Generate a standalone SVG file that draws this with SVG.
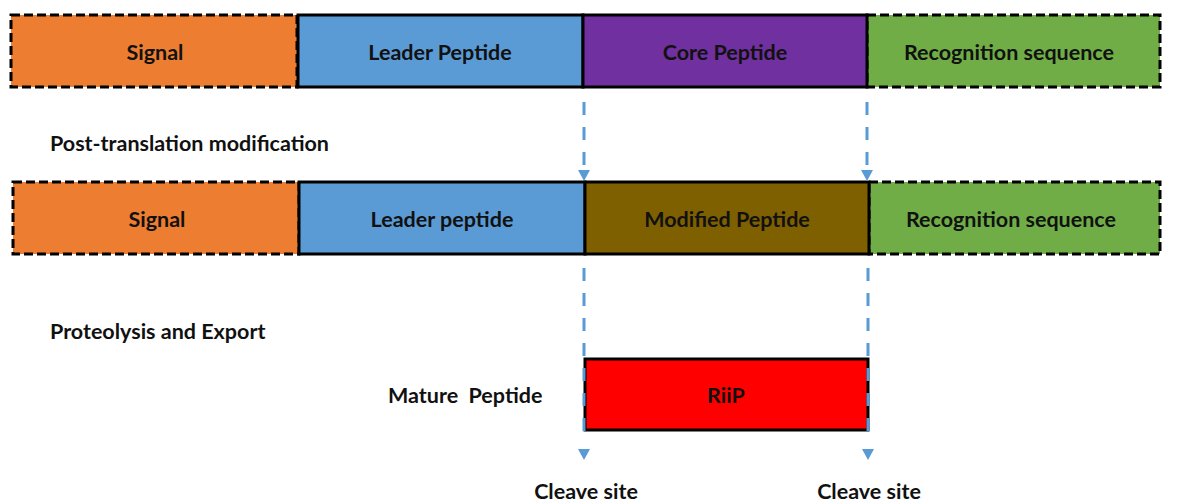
<svg xmlns="http://www.w3.org/2000/svg" width="1177" height="502" viewBox="0 0 1177 502">
<defs>
<style>
.box{stroke:#000;stroke-width:3}
.dash{stroke-dasharray:9 4}
.lbl{font-family:Lato,"Liberation Sans",sans-serif;font-weight:bold;font-size:21.5px;fill:#111;text-anchor:middle}
.side{font-family:Lato,"Liberation Sans",sans-serif;font-weight:bold;font-size:21.5px;fill:#111}
.cut{stroke:#5B9BD5;stroke-width:3;fill:none;stroke-dasharray:13 12}
.tip{fill:#5B9BD5}
</style>
</defs>
<rect width="1177" height="502" fill="#fff"/>
<g id="row1-signal"><rect class="box dash" x="11" y="15" width="286" height="72" fill="#ED7D31"/><text class="lbl" x="155" y="60">Signal</text></g>
<g id="row1-recognition"><rect class="box dash" x="867" y="15" width="293" height="72" fill="#70AD47"/><text class="lbl" x="1009" y="60">Recognition sequence</text></g>
<g id="row1-leader"><rect class="box" x="298" y="15" width="285" height="72" fill="#5B9BD5"/><text class="lbl" x="440" y="60">Leader Peptide</text></g>
<g id="row1-core"><rect class="box" x="583" y="15" width="284" height="72" fill="#7030A0"/><text class="lbl" x="725" y="60">Core Peptide</text></g>
<g id="label-ptm"><text class="side" x="50" y="151">Post-translation modification</text></g>
<g id="row2-signal"><rect class="box dash" x="13" y="182" width="286" height="72" fill="#ED7D31"/><text class="lbl" x="157" y="227">Signal</text></g>
<g id="row2-recognition"><rect class="box dash" x="869" y="182" width="291" height="72" fill="#70AD47"/><text class="lbl" x="1011" y="227">Recognition sequence</text></g>
<g id="row2-leader"><rect class="box" x="299" y="182" width="286" height="72" fill="#5B9BD5"/><text class="lbl" x="442" y="227">Leader peptide</text></g>
<g id="row2-modified"><rect class="box" x="585" y="182" width="284" height="72" fill="#7F6000"/><text class="lbl" x="727" y="227">Modified Peptide</text></g>
<g id="label-proteolysis"><text class="side" x="50" y="339">Proteolysis and Export</text></g>
<g id="label-mature"><text class="side" x="388" y="403" xml:space="preserve">Mature  Peptide</text></g>
<g id="riip"><rect class="box" x="585" y="359" width="283" height="71" fill="#FF0000"/><text class="lbl" x="726" y="403">RiiP</text></g>
<g id="connectors">
<line class="cut" x1="584" y1="102" x2="584" y2="170"/>
<polygon class="tip" points="578,170 590,170 584,181"/>
<line class="cut" x1="867" y1="102" x2="867" y2="170"/>
<polygon class="tip" points="861,170 873,170 867,181"/>
<line class="cut" x1="584" y1="268" x2="584" y2="437"/>
<polygon class="tip" points="578,449 590,449 584,460"/>
<line class="cut" x1="868" y1="268" x2="868" y2="437"/>
<polygon class="tip" points="862,449 874,449 868,460"/>
</g>
<g id="label-cleave1"><text class="lbl" x="586" y="499">Cleave site</text></g>
<g id="label-cleave2"><text class="lbl" x="869" y="499">Cleave site</text></g>
</svg>
